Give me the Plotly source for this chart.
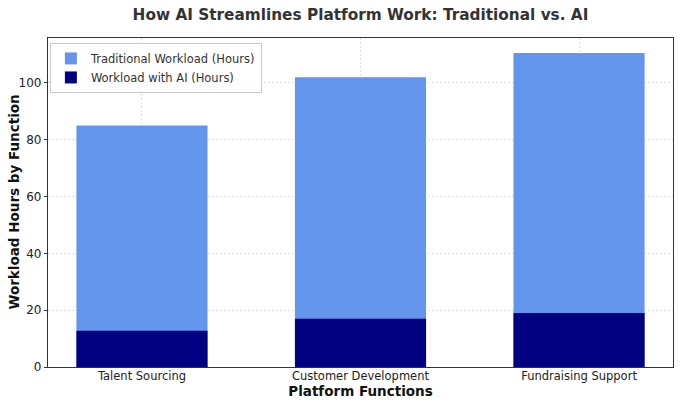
import plotly.graph_objects as go

functions = ["Talent Sourcing", "Customer Development", "Fundraising Support"]
traditional_hours = [85, 102, 110.5]
ai_hours = [12.8, 17, 19]

font_family = "DejaVu Sans"

fig = go.Figure()

fig.add_trace(go.Bar(
    x=functions, y=traditional_hours,
    name="Traditional Workload (Hours)",
    marker=dict(color="#6495ED", line=dict(width=0)),
    width=0.6,
))
fig.add_trace(go.Bar(
    x=functions, y=ai_hours,
    name="Workload with AI (Hours)",
    marker=dict(color="#000080", line=dict(width=0)),
    width=0.6,
))

grid = dict(showgrid=True, gridcolor="rgba(200,200,200,0.6)", griddash="2px,2px", gridwidth=1)

fig.update_layout(
    width=680, height=405,
    margin=dict(l=48, r=7, t=38, b=38),
    barmode="overlay",
    plot_bgcolor="white",
    paper_bgcolor="white",
    font=dict(family=font_family, size=11, color="#222"),
    title=dict(
        text="<b>How AI Streamlines Platform Work: Traditional vs. AI</b>",
        x=0.5, xref="paper", xanchor="center",
        y=0.965, yref="container", yanchor="middle",
        font=dict(size=15.3, color="#333"),
    ),
    legend=dict(
        x=0.003, y=0.985, xanchor="left", yanchor="top",
        bordercolor="#cccccc", borderwidth=1,
        bgcolor="rgba(255,255,255,0.85)",
        font=dict(size=11.5, color="#333"),
        tracegroupgap=0,
    ),
    xaxis=dict(
        range=[-0.43, 2.43],
        automargin=False,
        title=dict(text="<b>Platform Functions</b>", font=dict(size=13.5, color="#111"), standoff=0),
        **grid,
        showline=True, linecolor="#333", linewidth=1.2, mirror=True,
        ticks="", ticklabelstandoff=-2,
        tickfont=dict(size=11.5, color="#222"),
        layer="above traces",
    ),
    yaxis=dict(
        range=[0, 115.8],
        automargin=False,
        tickvals=[0, 20, 40, 60, 80, 100],
        **grid,
        zeroline=False,
        showline=True, linecolor="#333", linewidth=1.2, mirror=True,
        ticks="outside", ticklen=3, tickcolor="#333",
        tickfont=dict(size=12, color="#222"),
        layer="above traces",
    ),
)

# y title as an annotation so it can sit a bit closer to the tick labels
fig.add_annotation(
    text="<b>Workload Hours by Function</b>",
    textangle=-90,
    xref="paper", yref="paper", x=-0.056, y=0.5,
    xanchor="center", yanchor="middle",
    showarrow=False,
    font=dict(size=13.5, color="#111"),
)

# drop the browser's default page margin so the figure sits at 0,0
fig.write_html(
    "out.html",
    config={"displayModeBar": False},
    post_script="document.body.style.margin='0';document.body.style.overflow='hidden';",
)
